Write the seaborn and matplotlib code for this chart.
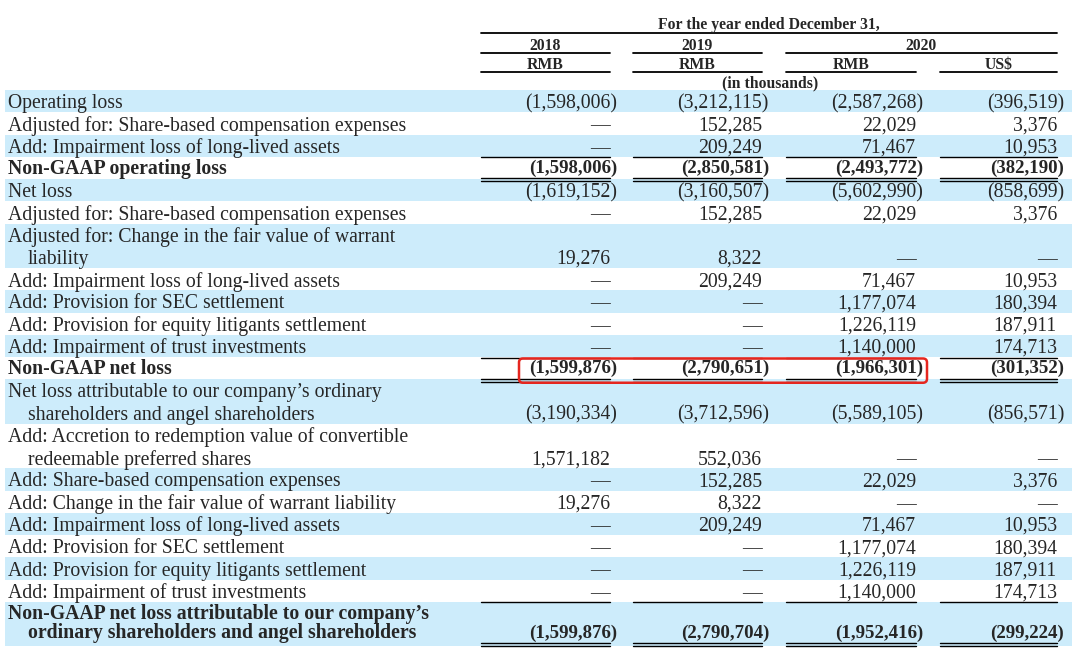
import matplotlib.pyplot as plt
import seaborn as sns
from matplotlib.patches import FancyBboxPatch

# Row labels ("\n" marks a wrapped, indented continuation line)
row_labels = [
    "Operating loss",
    "Adjusted for: Share-based compensation expenses",
    "Add: Impairment loss of long-lived assets",
    "Non-GAAP operating loss",
    "Net loss",
    "Adjusted for: Share-based compensation expenses",
    "Adjusted for: Change in the fair value of warrant\nliability",
    "Add: Impairment loss of long-lived assets",
    "Add: Provision for SEC settlement",
    "Add: Provision for equity litigants settlement",
    "Add: Impairment of trust investments",
    "Non-GAAP net loss",
    "Net loss attributable to our company\u2019s ordinary\nshareholders and angel shareholders",
    "Add: Accretion to redemption value of convertible\nredeemable preferred shares",
    "Add: Share-based compensation expenses",
    "Add: Change in the fair value of warrant liability",
    "Add: Impairment loss of long-lived assets",
    "Add: Provision for SEC settlement",
    "Add: Provision for equity litigants settlement",
    "Add: Impairment of trust investments",
    "Non-GAAP net loss attributable to our company\u2019s\nordinary shareholders and angel shareholders",
]

# values in thousands, None = dash
rmb_2018 = [-1598006, None, None, -1598006, -1619152, None, 19276, None, None, None, None,
            -1599876, -3190334, 1571182, None, 19276, None, None, None, None, -1599876]
rmb_2019 = [-3212115, 152285, 209249, -2850581, -3160507, 152285, 8322, 209249, None, None, None,
            -2790651, -3712596, 552036, 152285, 8322, 209249, None, None, None, -2790704]
rmb_2020 = [-2587268, 22029, 71467, -2493772, -5602990, 22029, None, 71467, 1177074, 1226119, 1140000,
            -1966301, -5589105, None, 22029, None, 71467, 1177074, 1226119, 1140000, -1952416]
usd_2020 = [-396519, 3376, 10953, -382190, -858699, 3376, None, 10953, 180394, 187911, 174713,
            -301352, -856571, None, 3376, None, 10953, 180394, 187911, 174713, -299224]

year_labels = ["2018", "2019", "2020"]
currency_labels = ["RMB", "RMB", "RMB", "US$"]
total_rows = [3, 11, 20]
boxed_row = 11

sns.set_theme(style="white")
plt.rcParams["font.family"] = ["Liberation Serif", "DejaVu Serif"]

W, H = 1080, 657
fig = plt.figure(figsize=(W / 100, H / 100), dpi=100)
ax = fig.add_axes([0, 0, 1, 1])
ax.set_xlim(0, W)
ax.set_ylim(H, 0)
ax.axis("off")

shade = "#cdecfb"
fs = 14.2
fs_total = 13.6   # bold totals are squeezed between the rules
hfs = 11.3
line_h = 22.25
top0 = 90

# column extents (left, right) in pixels
cols = [(481, 610), (633, 762), (786, 916), (940, 1057)]
columns = [rmb_2018, rmb_2019, rmb_2020, usd_2020]


def fmt(v):
    if v is None:
        return "\u2014"
    if v < 0:
        return "({:,})".format(-v)
    return "{:,}".format(v)


# header
ax.text((cols[0][0] + cols[3][1]) / 2, 23, "For the year ended December 31,", ha="center",
        va="center_baseline", fontsize=hfs, fontweight="bold")
ax.plot([cols[0][0], cols[3][1]], [33, 33], color="black", lw=1.3)
year_spans = [(cols[0][0], cols[0][1]), (cols[1][0], cols[1][1]), (cols[2][0], cols[3][1])]
for lab, (l, r) in zip(year_labels, year_spans):
    ax.text((l + r) / 2, 44, lab, ha="center", va="center_baseline", fontsize=hfs, fontweight="bold")
    ax.plot([l, r], [53, 53], color="black", lw=1.3)
for lab, (l, r) in zip(currency_labels, cols):
    ax.text((l + r) / 2, 63, lab, ha="center", va="center_baseline", fontsize=hfs, fontweight="bold")
    ax.plot([l, r], [72, 72], color="black", lw=1.3)
ax.text(770, 81, "(in thousands)", ha="center", va="center_baseline", fontsize=hfs, fontweight="bold")

# body
y = top0
for i, label in enumerate(row_labels):
    lines = label.split("\n")
    h = line_h * len(lines)
    bold = i in total_rows
    weight = "bold" if bold else "normal"
    spacing = 19.5 if bold else line_h
    lift = -1.5 if bold else 0
    nfs = fs_total if bold else fs
    if i % 2 == 0:
        ax.axhspan(y, y + h, xmin=5 / W, xmax=1072 / W, color=shade, lw=0, zorder=0)
    for k, ln in enumerate(lines):
        ax.text(8 if k == 0 else 28, y + line_h * 0.5 + spacing * k + lift, ln, ha="left",
                va="center_baseline", fontsize=fs, fontweight=weight)
    yv = y + line_h * 0.5 + spacing * (len(lines) - 1) + lift
    for (l, r), col in zip(cols, columns):
        v = col[i]
        xr = r + 7 if (v is not None and v < 0) else r
        ax.text(xr, yv, fmt(v), ha="right", va="center_baseline", fontsize=nfs, fontweight=weight)
        if bold:
            ax.plot([l, r], [y + 0.5, y + 0.5], color="black", lw=1.0)
            ax.plot([l, r], [yv + 12, yv + 12], color="black", lw=1.0)
            ax.plot([l, r], [yv + 15, yv + 15], color="black", lw=1.0)
    if i == boxed_row:
        box = FancyBboxPatch((519, y + 1.5), 927 - 519, h + 2, boxstyle="round,pad=0,rounding_size=4",
                             fill=False, edgecolor="#e5261f", lw=1.8, zorder=5)
        ax.add_patch(box)
    y += h

fig.savefig("out.png", dpi=100)
